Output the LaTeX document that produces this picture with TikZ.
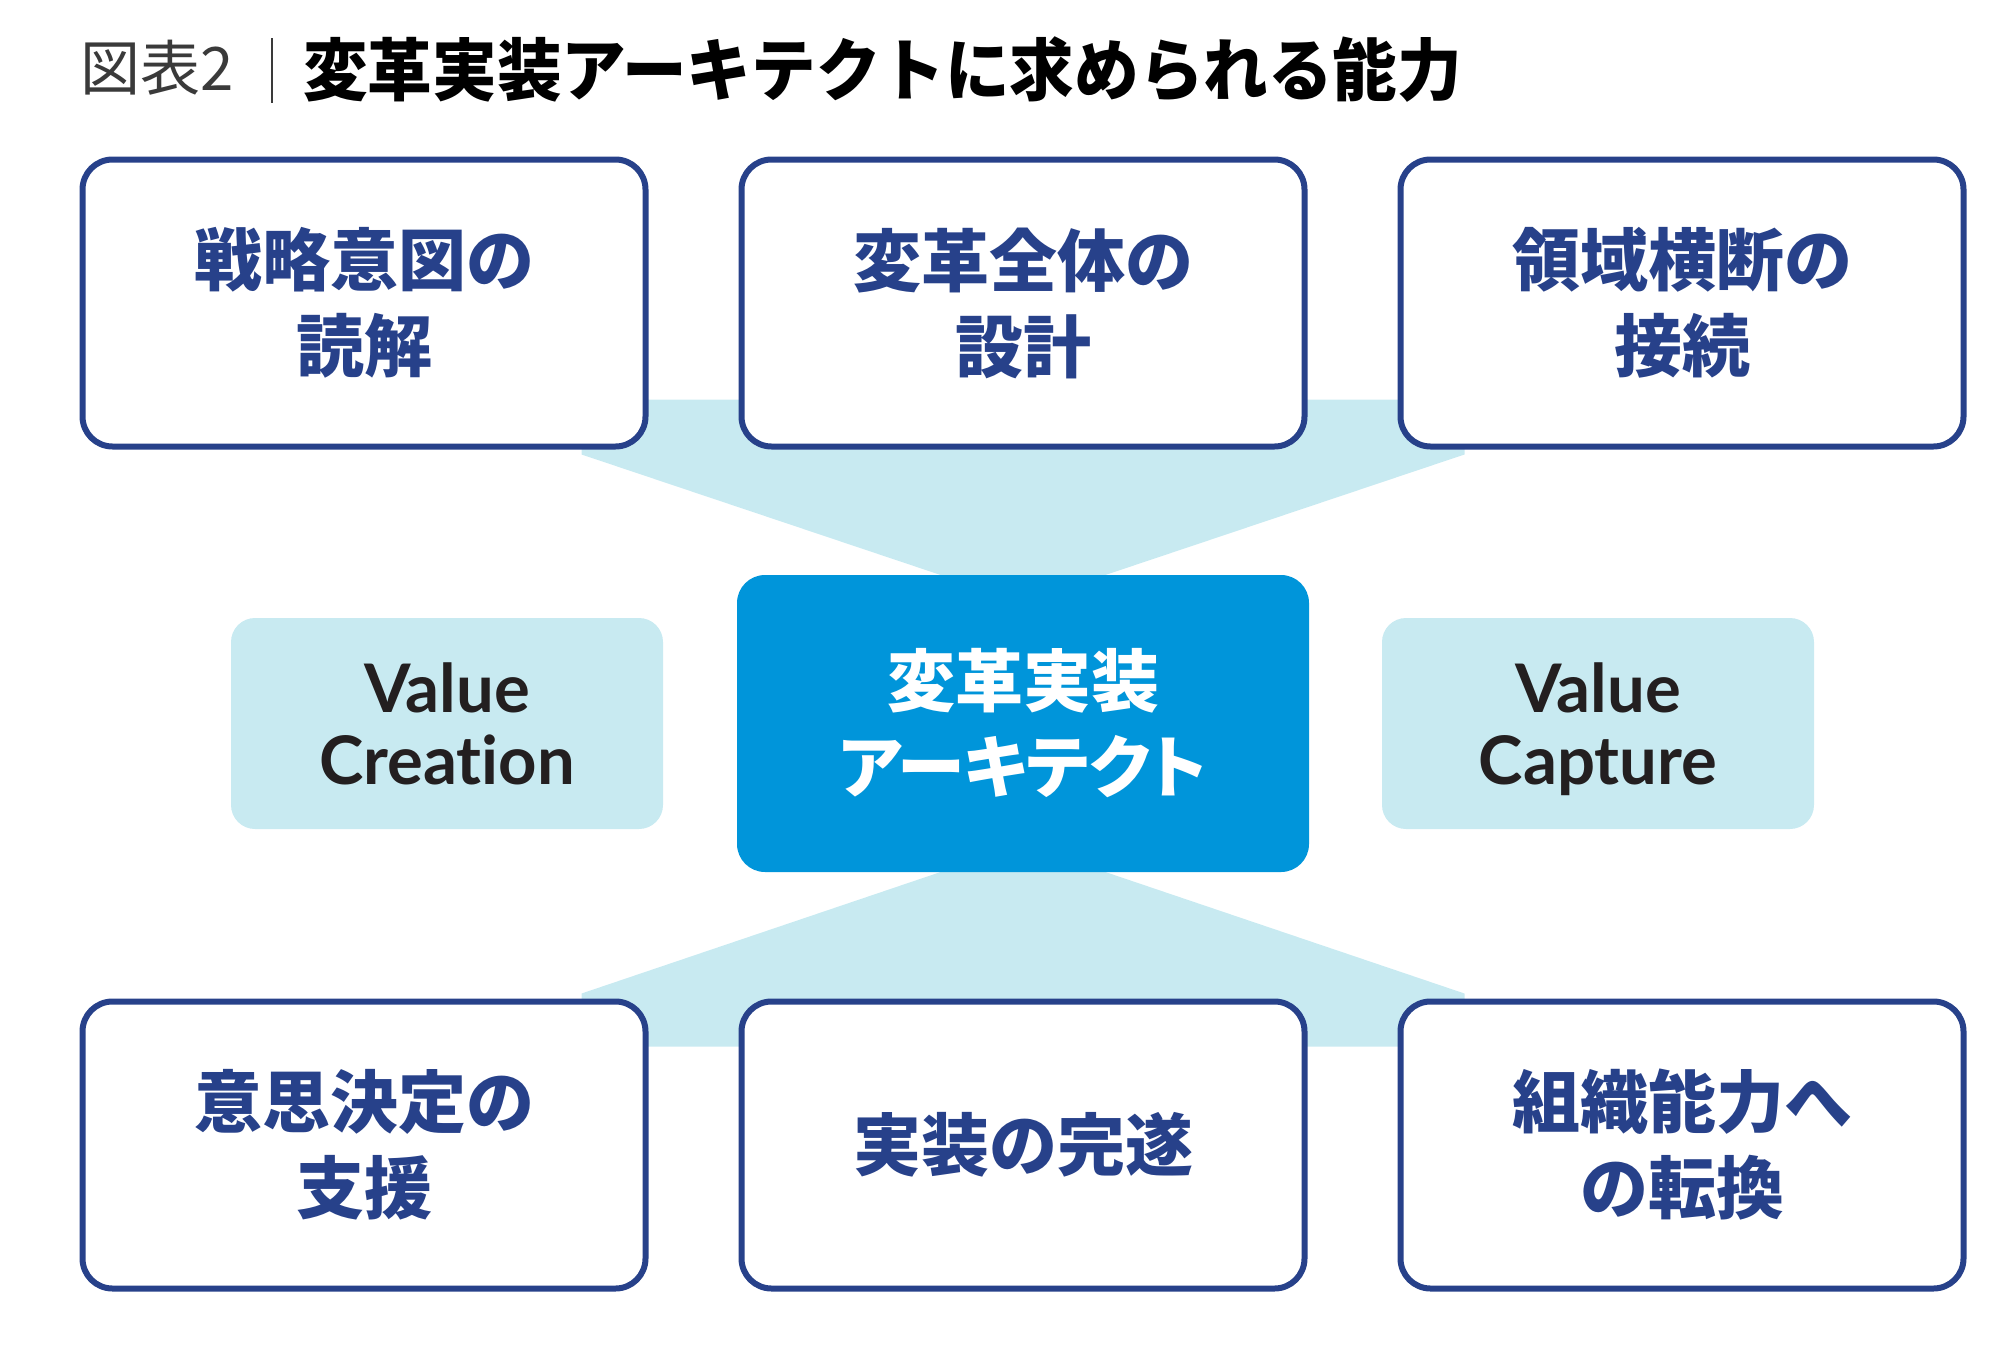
\documentclass[tikz,border=0pt]{standalone}
\usepackage{fontspec}
\setmainfont{Noto Sans CJK JP}
\newfontfamily\jpkana{Noto Sans CJK JP}[RawFeature=+palt]
\newfontfamily\titlefont{Noto Sans CJK JP}[FakeStretch=0.95]
\newfontfamily\latinsans{Lato}[RawFeature=-liga]
\usetikzlibrary{calc}
\definecolor{navy}{HTML}{27418A}
\definecolor{cblue}{HTML}{0095DA}
\definecolor{lblue}{HTML}{C8EAF1}
\definecolor{ink}{HTML}{231F20}
\definecolor{titlegray}{HTML}{3A3A3A}
\newcommand\mycapfont{\bfseries\fontsize{68}{86}\selectfont}
\newcommand\nodepth[1]{\raisebox{0pt}[\height][0pt]{#1}}
\pgfdeclarelayer{bg}
\pgfsetlayers{bg,main}
\begin{document}
\begin{tikzpicture}[x=1pt,y=-1pt,
  capbox/.style={draw=navy, line width=6pt, rounded corners=30pt, fill=white,
    minimum width=563pt, minimum height=287pt, align=center, text=navy,
    font=\mycapfont, inner sep=0pt},
  valbox/.style={fill=lblue, rounded corners=24pt, minimum width=432pt,
    minimum height=211pt, align=center, text=ink,
    font=\latinsans\bfseries\fontsize{67}{72}\selectfont, inner sep=0pt},
  corebox/.style={fill=cblue, rounded corners=28pt, minimum width=572pt,
    minimum height=297pt, align=center, text=white, font=\mycapfont, inner sep=0pt},
  band/.style={fill=lblue}]
\useasboundingbox (0,0) rectangle (2016,1347);
% title
\node[anchor=base west, inner sep=0pt, text=titlegray, font=\fontsize{60}{60}\selectfont] (fig) at (80,90) {図表2};
\coordinate (barT) at (272,38);
\coordinate (barB) at (272,103);
\draw[line width=2pt, titlegray] (barT) -- (barB);
\node[anchor=base west, inner sep=0pt, text=black, font=\titlefont\bfseries\fontsize{68}{68}\selectfont] (title) at (303,95) {変革実装アーキテクトに求められる能力};
% top row
\node[capbox] (t1) at (364,303) {戦略意図の\\読解};
\node[capbox] (t2) at (1023,303) {変革全体の\\設計};
\node[capbox] (t3) at (1682,303) {領域横断の\\接続};
% middle
\node[corebox] (c) at (1023,723.5) {変革実装\\{\jpkana アーキテクト}};
\node[valbox] (vc) at (447,723.5) {Value\\\nodepth{Creation}};
\node[valbox] (vp) at (1598,723.5) {Value\\\nodepth{Capture}};
% bottom row
\node[capbox] (b1) at (364,1145) {意思決定の\\支援};
\node[capbox] (b2) at (1023,1145) {実装の完遂};
\node[capbox] (b3) at (1682,1145) {組織能力へ\\の転換};
% bands
\begin{pgfonlayer}{bg}
\fill[band] ($(t1.south east)+(-67,-50)$) -- ($(t3.south west)+(67,-50)$)
  -- ($(t3.south west)+(67,5)$) -- ($(c.north)+(83,0)$) -- ($(c.north)+(-83,0)$)
  -- ($(t1.south east)+(-67,5)$) -- cycle;
\fill[band] ($(b1.north east)+(-67,48)$) -- ($(b3.north west)+(67,48)$)
  -- ($(b3.north west)+(67,-5)$) -- ($(c.south)+(83,0)$) -- ($(c.south)+(-83,0)$)
  -- ($(b1.north east)+(-67,-5)$) -- cycle;
\end{pgfonlayer}
\end{tikzpicture}
\end{document}
